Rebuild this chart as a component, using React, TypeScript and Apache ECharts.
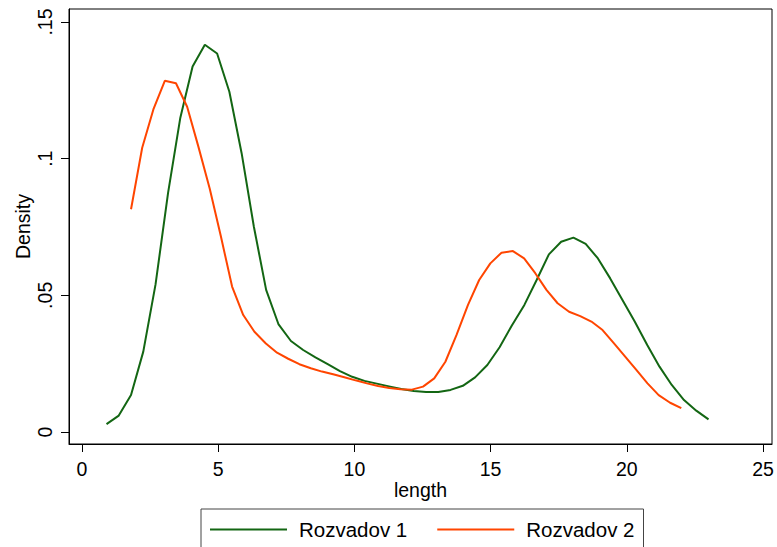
import React, { useEffect, useRef } from "react";
import * as echarts from "echarts";

const xTicks = [0, 5, 10, 15, 20, 25];
const yTicks = [0, 0.05, 0.1, 0.15];
const yTickLabels = ["0", ".05", ".1", ".15"];

const seriesNames = ["Rozvadov 1", "Rozvadov 2"];

const r1X = [0.90, 1.35, 1.80, 2.25, 2.70, 3.16, 3.61, 4.06, 4.51, 4.96, 5.41, 5.86, 6.31, 6.76, 7.21, 7.67, 8.12, 8.57, 9.02, 9.47, 9.92, 10.37, 10.82, 11.27, 11.72, 12.18, 12.63, 13.08, 13.53, 13.98, 14.43, 14.88, 15.33, 15.78, 16.24, 16.69, 17.14, 17.59, 18.04, 18.49, 18.94, 19.39, 19.84, 20.29, 20.75, 21.20, 21.65, 22.10, 22.55, 23.00];
const r1Y = [0.0029, 0.0060, 0.0135, 0.0294, 0.0540, 0.0875, 0.1150, 0.1337, 0.1417, 0.1385, 0.1245, 0.1020, 0.0751, 0.0520, 0.0395, 0.0333, 0.0300, 0.0273, 0.0248, 0.0223, 0.0202, 0.0187, 0.0177, 0.0167, 0.0157, 0.0150, 0.0146, 0.0146, 0.0154, 0.0169, 0.0200, 0.0245, 0.0310, 0.0390, 0.0465, 0.0556, 0.0650, 0.0696, 0.0711, 0.0688, 0.0635, 0.0562, 0.0483, 0.0404, 0.0318, 0.0239, 0.0172, 0.0117, 0.0078, 0.0046];

const r2X = [1.80, 2.21, 2.62, 3.04, 3.45, 3.86, 4.27, 4.69, 5.10, 5.51, 5.92, 6.33, 6.75, 7.16, 7.57, 7.98, 8.40, 8.81, 9.22, 9.63, 10.04, 10.46, 10.87, 11.28, 11.69, 12.11, 12.52, 12.93, 13.34, 13.75, 14.17, 14.58, 14.99, 15.40, 15.82, 16.23, 16.64, 17.05, 17.46, 17.88, 18.29, 18.70, 19.11, 19.53, 19.94, 20.35, 20.76, 21.17, 21.59, 22.00];
const r2Y = [0.0815, 0.1040, 0.1180, 0.1285, 0.1276, 0.1190, 0.1045, 0.0890, 0.0715, 0.0532, 0.0428, 0.0367, 0.0324, 0.0290, 0.0268, 0.0248, 0.0233, 0.0221, 0.0211, 0.0200, 0.0189, 0.0178, 0.0168, 0.0161, 0.0156, 0.0155, 0.0166, 0.0196, 0.0257, 0.0355, 0.0465, 0.0556, 0.0617, 0.0656, 0.0662, 0.0635, 0.0581, 0.0520, 0.0471, 0.0440, 0.0424, 0.0404, 0.0373, 0.0324, 0.0276, 0.0227, 0.0178, 0.0135, 0.0107, 0.0087];

const colors = ["#136613", "#ff4500"];
const FONT = "'Liberation Sans', Arial, sans-serif";

export default function App() {
  const ref = useRef<HTMLDivElement>(null);
  useEffect(() => {
    if (!ref.current) return;
    const chart = echarts.init(ref.current, undefined, { renderer: "svg" });
    const pairs = (xs: number[], ys: number[]) => xs.map((x, i) => [x, ys[i]]);
    chart.setOption({
      animation: false,
      backgroundColor: "#fff",
      textStyle: { fontFamily: FONT },
      grid: {
        left: 69,
        right: 5,
        top: 9,
        bottom: 103,
        show: true,
        borderColor: "#000",
        borderWidth: 1,
        containLabel: false,
        outerBoundsMode: "none",
      },
      legend: {
        data: seriesNames,
        left: 201,
        top: 509,
        orient: "horizontal",
        icon: "rect",
        itemWidth: 77,
        itemHeight: 2,
        itemGap: 30,
        padding: [10, 9, 18, 9],
        borderColor: "#444",
        borderWidth: 1,
        textStyle: { fontSize: 20.5, fontFamily: FONT, color: "#000", padding: [0, 0, 0, 7] },
      },
      xAxis: {
        type: "value",
        min: -0.477,
        max: 25.33,
        name: "length",
        nameLocation: "middle",
        nameGap: 36,
        nameMoveOverlap: false,
        nameTextStyle: { fontSize: 19.5, fontFamily: FONT, color: "#000" },
        splitLine: { show: false },
        axisLine: { show: true, onZero: false, lineStyle: { color: "#000", width: 1 } },
        axisTick: { show: true, length: 8, customValues: xTicks, lineStyle: { color: "#000", width: 1 } },
        axisLabel: { customValues: xTicks, fontSize: 19.5, fontFamily: FONT, color: "#000", margin: 15 },
      },
      yAxis: {
        type: "value",
        min: -0.00439,
        max: 0.15476,
        name: "Density",
        nameLocation: "middle",
        nameGap: 36,
        nameMoveOverlap: false,
        nameTextStyle: { fontSize: 19.5, fontFamily: FONT, color: "#000" },
        splitLine: { show: false },
        axisLine: { show: true, onZero: false, lineStyle: { color: "#000", width: 1 } },
        axisTick: { show: true, length: 8, customValues: yTicks, lineStyle: { color: "#000", width: 1 } },
        axisLabel: {
          customValues: yTicks,
          rotate: 90,
          fontSize: 19.5,
          fontFamily: FONT,
          color: "#000",
          margin: 14,
          formatter: (v: number) => {
            const i = yTicks.findIndex((t) => Math.abs(t - v) < 1e-9);
            return i >= 0 ? yTickLabels[i] : "";
          },
        },
      },
      series: [
        {
          name: seriesNames[0],
          type: "line",
          data: pairs(r1X, r1Y),
          showSymbol: false,
          symbol: "none",
          lineStyle: { color: colors[0], width: 2 },
          itemStyle: { color: colors[0] },
        },
        {
          name: seriesNames[1],
          type: "line",
          data: pairs(r2X, r2Y),
          showSymbol: false,
          symbol: "none",
          lineStyle: { color: colors[1], width: 2 },
          itemStyle: { color: colors[1] },
        },
      ],
    });
    return () => chart.dispose();
  }, []);
  return (
    <div
      ref={ref}
      style={{ position: "fixed", left: 0, top: 0, width: 777, height: 547 }}
    />
  );
}
